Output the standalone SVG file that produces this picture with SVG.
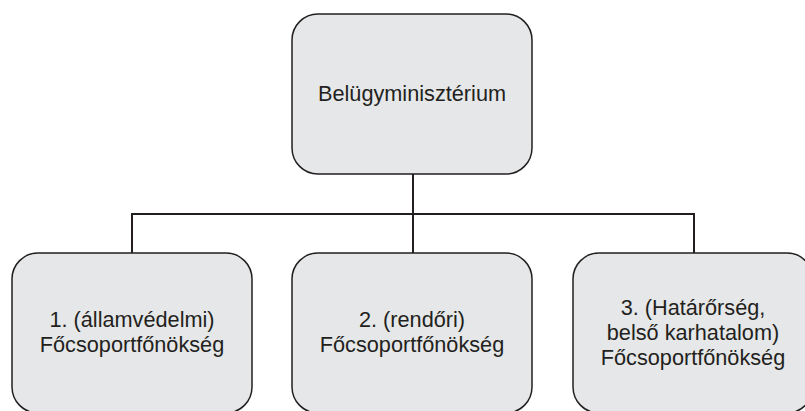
<svg xmlns="http://www.w3.org/2000/svg" width="805" height="411" viewBox="0 0 805 411">
<style>
.box{fill:#e6e7e8;stroke:#231f20;stroke-width:1.5}
.lbl{font-family:"Liberation Sans",Arial,sans-serif;font-size:21.7px;fill:#231f20;text-anchor:middle}
.con{fill:none;stroke:#231f20;stroke-width:2}
</style>
<rect width="805" height="411" fill="#fff"/>
<g id="connectors">
<path class="con" d="M413 174V253M132 253V214H694V253"/>
</g>
<g id="n0">
<rect class="box" x="292" y="14" width="240" height="160" rx="26"/>
<text class="lbl" x="412" y="101">Belügyminisztérium</text>
</g>
<g id="n1">
<rect class="box" x="12" y="253" width="240" height="160" rx="26"/>
<text class="lbl" x="132" y="327">1. (államvédelmi)</text>
<text class="lbl" x="132" y="352">Főcsoportfőnökség</text>
</g>
<g id="n2">
<rect class="box" x="292" y="253" width="240" height="160" rx="26"/>
<text class="lbl" x="412" y="327">2. (rendőri)</text>
<text class="lbl" x="412" y="352">Főcsoportfőnökség</text>
</g>
<g id="n3">
<rect class="box" x="573" y="253" width="240" height="160" rx="26"/>
<text class="lbl" x="693" y="315">3. (Határőrség,</text>
<text class="lbl" x="693" y="340">belső karhatalom)</text>
<text class="lbl" x="693" y="365">Főcsoportfőnökség</text>
</g>
</svg>
